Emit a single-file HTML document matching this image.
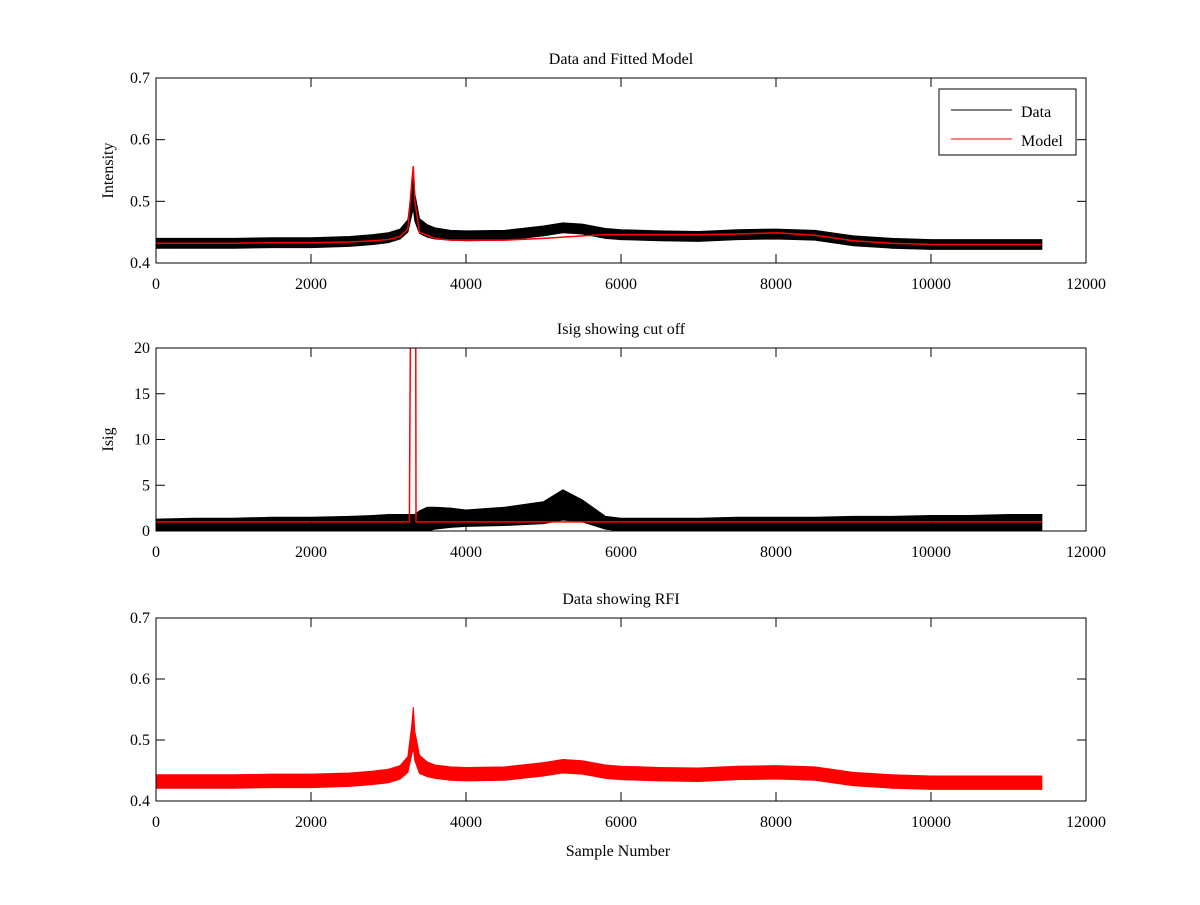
<!DOCTYPE html>
<html><head><meta charset="utf-8"><style>
html,body{margin:0;padding:0;background:#fff;}
svg text{font-family:"Liberation Serif",serif;font-size:16px;fill:#000;}
</style></head><body>
<svg id="fig" width="1200" height="900" xmlns="http://www.w3.org/2000/svg"></svg>
<script>
// shared x samples (sample number)
const xs = [0,500,1000,1500,2000,2500,2800,3000,3150,3250,3300,3320,3340,3400,3500,3600,3800,4000,4500,5000,5250,5500,5800,6000,6500,7000,7500,8000,8500,9000,9500,10000,10500,11000,11430];
// panel 1: data centre and half-width of noise band
const dataCenter = [0.432,0.432,0.432,0.433,0.433,0.435,0.438,0.441,0.447,0.46,0.5,0.52,0.49,0.46,0.452,0.448,0.445,0.444,0.445,0.452,0.457,0.455,0.448,0.446,0.444,0.443,0.446,0.447,0.445,0.436,0.432,0.43,0.43,0.43,0.43];
const dataHalf = [0.008,0.008,0.008,0.008,0.008,0.008,0.008,0.008,0.008,0.01,0.022,0.032,0.022,0.012,0.01,0.009,0.008,0.008,0.008,0.008,0.008,0.008,0.008,0.008,0.008,0.008,0.008,0.008,0.008,0.008,0.008,0.008,0.008,0.008,0.008];
const modelVals = [0.432,0.432,0.432,0.433,0.433,0.434,0.436,0.438,0.443,0.455,0.53,0.557,0.5,0.45,0.445,0.44,0.437,0.437,0.437,0.44,0.442,0.444,0.446,0.446,0.446,0.446,0.447,0.449,0.445,0.436,0.432,0.43,0.43,0.43,0.43];
// panel 2: Isig band
const isigUpper = [1.3,1.4,1.4,1.5,1.5,1.6,1.7,1.8,1.8,1.8,1.8,1.8,1.8,2.2,2.6,2.6,2.5,2.3,2.6,3.2,4.5,3.4,1.6,1.4,1.4,1.4,1.5,1.5,1.5,1.6,1.6,1.7,1.7,1.8,1.8];
const isigLower = [0,0,0,0,0,0,0,0,0,0,0,0,0,0,0,0.2,0.4,0.5,0.6,0.8,1.2,1.0,0.2,0,0,0,0,0,0,0,0,0,0,0,0];
const cutX = [0,3270,3275,3290,3295,3350,3355,11430];
const cutY = [1,1,10.5,30,30,30,1,1];
// panel 3: RFI data (red)
const rfiCenter = dataCenter;
const rfiHalf = [0.011,0.011,0.011,0.011,0.011,0.011,0.011,0.011,0.011,0.013,0.024,0.034,0.024,0.015,0.012,0.011,0.011,0.011,0.011,0.011,0.011,0.011,0.011,0.011,0.011,0.011,0.011,0.011,0.011,0.011,0.011,0.011,0.011,0.011,0.011];
const xTicks = [0,2000,4000,6000,8000,10000,12000];
const yTicks1 = [0.4,0.5,0.6,0.7];
const yTicks2 = [0,5,10,15,20];

const NS="http://www.w3.org/2000/svg";
const svg=document.getElementById('fig');
function el(t,a,p){const e=document.createElementNS(NS,t);for(const k in a)e.setAttribute(k,a[k]);(p||svg).appendChild(e);return e;}
const L=156,R=1086;
const sx=v=>L+(v-0)/12000*(R-L);

function panel(name,top,bot,ymin,ymax,yTicks,title,ylabel){
  const g=el('g',{});
  
  
  const sy=v=>bot-(v-ymin)/(ymax-ymin)*(bot-top);
  const clipId=name+'-clip';
  const cp=el('clipPath',{id:clipId},g);el('rect',{x:L,y:top,width:R-L,height:bot-top},cp);
  const plot=el('g',{'clip-path':'url(#'+clipId+')'},g);
  const t=el('text',{x:(L+R)/2,y:top-14,'text-anchor':'middle'},g);t.textContent=title;
  
  if(ylabel){const yl=el('text',{x:0,y:0,'text-anchor':'middle',transform:`translate(${L-43},${(top+bot)/2}) rotate(-90)`},g);yl.textContent=ylabel;
    }
  return {g,plot,sy,top,bot,yTicks};
}
function axes(p){
  const {g,sy,top,bot,yTicks}=p;
  el('rect',{x:L,y:top,width:R-L,height:bot-top,fill:'none',stroke:'#000','stroke-width':1},g);
  xTicks.forEach(v=>{const x=sx(v);
    el('line',{x1:x,x2:x,y1:bot,y2:bot-9,stroke:'#000'},g);el('line',{x1:x,x2:x,y1:top,y2:top+9,stroke:'#000'},g);
    const tx=el('text',{x:x,y:bot+26,'text-anchor':'middle'},g);tx.textContent=v;
    });
  yTicks.forEach(v=>{const y=sy(v);
    el('line',{x1:L,x2:L+9,y1:y,y2:y,stroke:'#000'},g);el('line',{x1:R,x2:R-9,y1:y,y2:y,stroke:'#000'},g);
    const ty=el('text',{x:L-6,y:y+5,'text-anchor':'end'},g);ty.textContent=v;
    });
}
function band(p,lo,hi,color,name){
  let d='M'+xs.map((x,i)=>sx(x)+','+p.sy(hi[i])).join('L');
  for(let i=xs.length-1;i>=0;i--)d+='L'+sx(xs[i])+','+p.sy(lo[i]);
  const e=el('path',{d:d+'Z',fill:color,stroke:color,'stroke-width':1},p.plot);
  
}
function line(p,X,Y,color,name,w){
  const e=el('polyline',{points:X.map((x,i)=>sx(x)+','+p.sy(Y[i])).join(' '),fill:'none',stroke:color,'stroke-width':w||1},p.plot);
  
}

// Panel 1
const p1=panel('top-panel',78,263,0.4,0.7,yTicks1,'Data and Fitted Model','Intensity');
band(p1,dataCenter.map((c,i)=>c-dataHalf[i]),dataCenter.map((c,i)=>c+dataHalf[i]),'#000','data-series');
line(p1,xs,modelVals,'#f00','model-series',1.5);
axes(p1);
const lg=el('g',{});
el('rect',{x:939,y:89,width:137,height:66,fill:'#fff',stroke:'#000'},lg);
el('line',{x1:951,x2:1012,y1:110,y2:110,stroke:'#000'},lg);
let lt=el('text',{x:1021,y:117},lg);lt.textContent='Data';
el('line',{x1:951,x2:1012,y1:139,y2:139,stroke:'#f00'},lg);
lt=el('text',{x:1021,y:146},lg);lt.textContent='Model';

// Panel 2
const p2=panel('middle-panel',348,531,0,20,yTicks2,'Isig showing cut off','Isig');
band(p2,isigLower,isigUpper,'#000','isig-series');
line(p2,cutX,cutY,'#f00','cutoff-series',1.5);
axes(p2);

// Panel 3
const p3=panel('bottom-panel',618,801,0.4,0.7,yTicks1,'Data showing RFI',null);
band(p3,rfiCenter.map((c,i)=>c-rfiHalf[i]),rfiCenter.map((c,i)=>c+rfiHalf[i]),'#f00','rfi-series');
axes(p3);
const xl=el('text',{x:(L+R)/2-3,y:856,'text-anchor':'middle'});xl.textContent='Sample Number';

</script>
</body></html>
